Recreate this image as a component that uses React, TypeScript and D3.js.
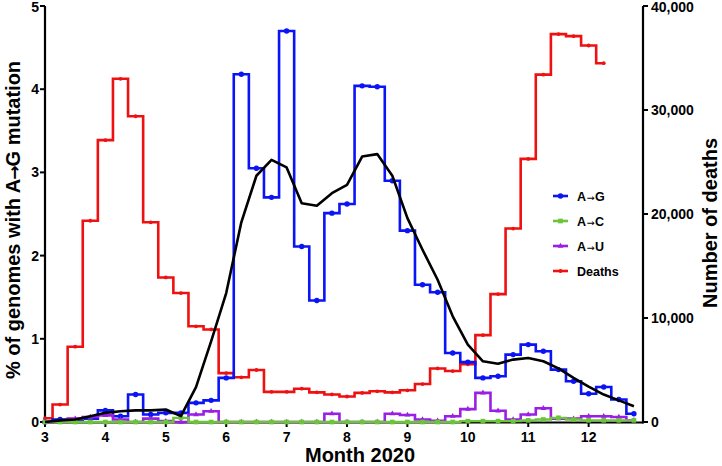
import React from "react"
import * as d3 from "d3"

const width = 722
const height = 466
const margin = { top: 6, right: 79, bottom: 44, left: 45 }

// month positions of each weekly bin
const months = [3, 3.25, 3.5, 3.75, 4, 4.25, 4.5, 4.75, 5, 5.25, 5.5, 5.75, 6, 6.25, 6.5, 6.75,
  7, 7.25, 7.5, 7.75, 8, 8.25, 8.5, 8.75, 9, 9.25, 9.5, 9.75, 10, 10.25, 10.5, 10.75,
  11, 11.25, 11.5, 11.75, 12, 12.25, 12.5, 12.75]

const aToG = [0, 0.03, 0.02, 0.04, 0.14, 0.07, 0.33, 0.09, 0.11, 0.11, 0.23, 0.26, 0.53, 4.18, 3.05, 2.7,
  4.7, 2.11, 1.46, 2.51, 2.62, 4.04, 4.03, 2.9, 2.3, 1.65, 1.56, 0.83, 0.72, 0.53, 0.55, 0.81,
  0.93, 0.85, 0.63, 0.49, 0.34, 0.42, 0.27, 0.1]

const aToC = [0, 0, 0, 0, 0, 0, 0, 0, 0, 0.05, 0, 0, 0, 0, 0, 0,
  0, 0, 0, 0, 0, 0, 0, 0, 0, 0, 0, 0, 0.01, 0.01, 0.01, 0.01,
  0.02, 0.03, 0.05, 0.03, 0.02, 0.02, 0.02, 0.02]

const aToU = [0, 0, 0.04, 0.06, 0.08, 0.03, 0, 0.04, 0.01, 0, 0.09, 0.13, 0, 0, 0, 0,
  0, 0, 0, 0.1, 0, 0, 0, 0.1, 0.085, 0.03, 0.015, 0.07, 0.155, 0.35, 0.135, 0.03,
  0.09, 0.165, 0.04, 0.04, 0.07, 0.07, 0.06, 0.02]

// deaths stop at 12.25
const deaths = [360, 1680, 7240, 19350, 27100, 33000, 29400, 19200, 13900, 12400, 9200, 8900, 4700, 4300, 5000, 2900,
  2900, 3200, 2850, 2650, 2450, 2800, 2950, 2850, 3050, 3650, 5150, 4900, 5550, 8350, 12300, 18600,
  25300, 33400, 37300, 37100, 36200, 34500]

// smoothed A->G trend
const trend = [0, 0.02, 0.03, 0.07, 0.11, 0.13, 0.14, 0.14, 0.15, 0.07, 0.42, 0.97, 1.55, 2.4, 2.96, 3.15,
  3.06, 2.63, 2.6, 2.75, 2.85, 3.19, 3.22, 2.96, 2.45, 2.07, 1.71, 1.27, 0.93, 0.73, 0.7, 0.75,
  0.77, 0.73, 0.645, 0.53, 0.425, 0.33, 0.26, 0.19]

const xTicks = [3, 4, 5, 6, 7, 8, 9, 10, 11, 12]
const yTicks = [0, 1, 2, 3, 4, 5]
const y2Ticks = [0, 10000, 20000, 30000, 40000]

const BLUE = "#0a14f5"
const GREEN = "#6cc43a"
const PURPLE = "#9b1ee6"
const RED = "#ee1111"

const font = "'Liberation Sans', Arial, sans-serif"
const arrowFont = "'DejaVu Sans', sans-serif"
const ARROW = "\u2192"

export default function App() {
  const x = d3.scaleLinear().domain([3, 12.9]).range([margin.left, width - margin.right])
  const y = d3.scaleLinear().domain([0, 5]).range([height - margin.bottom, margin.top])
  const y2 = d3.scaleLinear().domain([0, 40000]).range([height - margin.bottom, margin.top])

  const stepLine = d3.line<number>()
    .x((d, i) => x(months[i]))
    .y(d => y(d))
    .curve(d3.curveStep)
  const deathLine = d3.line<number>()
    .x((d, i) => x(months[i]))
    .y(d => y2(d))
    .curve(d3.curveStep)
  const trendLine = d3.line<number>()
    .x((d, i) => x(months[i]))
    .y(d => y(d))

  const tri = d3.symbol().type(d3.symbolTriangle).size(14)()
  const sq = d3.symbol().type(d3.symbolSquare).size(22)()

  const x0 = x(3)
  const x1 = x(12.9)
  const yb = y(0)

  const legend = [
    { a: "A", b: "G", color: BLUE, mark: "circle" },
    { a: "A", b: "C", color: GREEN, mark: "square" },
    { a: "A", b: "U", color: PURPLE, mark: "tri" },
    { a: "Deaths", b: "", color: RED, mark: "dot" },
  ]

  const marker = (kind: string, color: string, cx: number, cy: number, key: any) => {
    if (kind === "circle") return <circle key={key} cx={cx} cy={cy} r={2.7} fill={color} />
    if (kind === "square") return <path key={key} d={sq!} transform={`translate(${cx},${cy})`} fill={color} />
    if (kind === "tri") return <path key={key} d={tri!} transform={`translate(${cx},${cy})`} fill={color} />
    return <circle key={key} cx={cx} cy={cy} r={1.9} fill={color} />
  }

  return (
    <svg width={width} height={height} style={{ position: "absolute", left: 0, top: 0, display: "block", background: "#fff" }}
      fontFamily={font} fontWeight="bold">
      {/* axes */}
      <line x1={x0} x2={x1} y1={yb + 0.5} y2={yb + 0.5} stroke="#000" strokeWidth={2.2} />
      <line x1={x0} x2={x0} y1={y(5)} y2={yb + 1.5} stroke="#000" strokeWidth={2.2} />
      <line x1={x1} x2={x1} y1={y(5)} y2={yb + 1.5} stroke="#000" strokeWidth={2.2} />

      {xTicks.map(t => (
        <g key={"xt" + t}>
          <line x1={x(t)} x2={x(t)} y1={yb} y2={yb + 5} stroke="#000" strokeWidth={2} />
          <text x={x(t)} y={yb + 19.5} textAnchor="middle" fontSize={14}>{t}</text>
        </g>
      ))}
      {yTicks.map(t => (
        <g key={"yt" + t}>
          <line x1={x0 - 5} x2={x0} y1={y(t)} y2={y(t)} stroke="#000" strokeWidth={2} />
          <text x={x0 - 6} y={Math.max(y(t), 7)} dy="0.36em" textAnchor="end" fontSize={14}>{t}</text>
        </g>
      ))}
      {y2Ticks.map(t => (
        <g key={"y2t" + t}>
          <line x1={x1} x2={x1 + 5} y1={y2(t)} y2={y2(t)} stroke="#000" strokeWidth={2} />
          <text x={x1 + 8} y={Math.max(y2(t), 7)} dy="0.36em" textAnchor="start" fontSize={14}>{d3.format(",")(t)}</text>
        </g>
      ))}

      {/* series */}
      <path d={deathLine(deaths)!} fill="none" stroke={RED} strokeWidth={2.6} />
      {deaths.map((d, i) => marker("dot", RED, x(months[i]), y2(d), "r" + i))}

      <path d={stepLine(aToG)!} fill="none" stroke={BLUE} strokeWidth={2.6} />
      {aToG.map((d, i) => marker("circle", BLUE, x(months[i]), y(d), "b" + i))}

      <path d={stepLine(aToU)!} fill="none" stroke={PURPLE} strokeWidth={2.6} />
      {aToU.map((d, i) => marker("tri", PURPLE, x(months[i]), y(d), "p" + i))}

      <path d={stepLine(aToC)!} fill="none" stroke={GREEN} strokeWidth={2.4} />
      {aToC.map((d, i) => marker("square", GREEN, x(months[i]), y(d), "g" + i))}

      <path d={trendLine(trend)!} fill="none" stroke="#000" strokeWidth={2.6} strokeLinejoin="round" />

      {/* titles */}
      <text x={(x0 + x1) / 2 + 16} y={462} textAnchor="middle" fontSize={20}>Month 2020</text>
      <text transform={`translate(20,${220}) rotate(-90)`} textAnchor="middle" fontSize={20}>
        % of genomes with A<tspan dx={-1} fontFamily={arrowFont} fontSize={17}>{ARROW}</tspan><tspan dx={-1}>G</tspan> mutation
      </text>
      <text transform={`translate(717,${223}) rotate(-90)`} textAnchor="middle" fontSize={20}>Number of deaths</text>

      {/* legend */}
      {legend.map((l, i) => {
        const ly = 196 + i * 25
        return (
          <g key={"lg" + i}>
            <line x1={553} x2={568} y1={ly} y2={ly} stroke={l.color} strokeWidth={2.6} />
            {marker(l.mark, l.color, 560.5, ly, "lm" + i)}
            <text x={577} y={ly} dy="0.36em" fontSize={12.5}>
              {l.a}
              {l.b && <tspan dx={0.5} fontFamily={arrowFont} fontWeight="normal" fontSize={9.5}>{ARROW}</tspan>}
              {l.b && <tspan dx={0.5}>{l.b}</tspan>}
            </text>
          </g>
        )
      })}
    </svg>
  )
}
